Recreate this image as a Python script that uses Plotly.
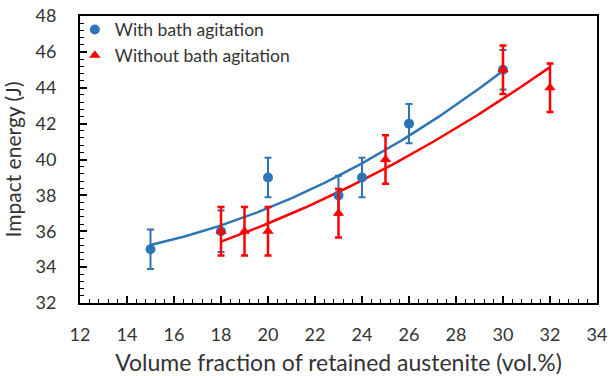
import numpy as np
import plotly.graph_objects as go

# With bath agitation
x_with = [15, 18, 20, 23, 24, 26, 30]
y_with = [35, 36, 39, 38, 39, 42, 45]
err_with = [1.1, 1.15, 1.1, 1.1, 1.1, 1.1, 1.1]

# Without bath agitation
x_without = [18, 19, 20, 23, 25, 30, 32]
y_without = [36, 36, 36, 37, 40, 45, 44]
err_without = [1.35, 1.35, 1.35, 1.35, 1.35, 1.35, 1.35]

names = ["With bath agitation", "Without bath agitation"]
blue = "#2E75B6"
red = "#FF0000"

fig = go.Figure()

# polynomial (2nd order) trendlines fitted from the data
for xs, ys, col in [(x_with, y_with, blue), (x_without, y_without, red)]:
    c = np.polyfit(xs, ys, 2)
    xx = np.linspace(min(xs), max(xs), 100)
    fig.add_trace(go.Scatter(x=xx, y=np.polyval(c, xx), mode="lines",
                             line=dict(color=col, width=2.5), showlegend=False,
                             hoverinfo="skip"))

fig.add_trace(go.Scatter(x=x_with, y=y_with, mode="markers", name=names[0],
                         marker=dict(symbol="circle", size=10, color=blue),
                         error_y=dict(type="data", array=err_with, color=blue,
                                      thickness=2, width=3.5)))
fig.add_trace(go.Scatter(x=x_without, y=y_without, mode="markers", name=names[1],
                         marker=dict(symbol="triangle-up", size=10, color=red),
                         error_y=dict(type="data", array=err_without, color=red,
                                      thickness=2.5, width=3.5)))

font_family = "Lato, 'Open Sans', sans-serif"
txt = "#333333"
fig.update_layout(
    width=611, height=376,
    margin=dict(l=80, r=14, t=16, b=73, autoexpand=False),
    paper_bgcolor="white", plot_bgcolor="white",
    font=dict(family=font_family, color=txt),
    showlegend=True,
    legend=dict(x=-0.01, y=1.015, xanchor="left", yanchor="top",
                bgcolor="rgba(0,0,0,0)", font=dict(size=17.5, color=txt),
                itemwidth=30, tracegroupgap=0),
    xaxis=dict(range=[12, 34], dtick=2, tick0=12, showgrid=False, zeroline=False,
               automargin=False,
               showline=True, linecolor="black", linewidth=2, mirror=True,
               ticks="inside", ticklen=7, tickwidth=1.5, tickcolor="black",
               minor=dict(dtick=0.4, ticks="inside", ticklen=4, tickcolor="black", tickwidth=1.2),
               tickfont=dict(size=18, color=txt), ticklabelstandoff=14,
               title=dict(text="Volume fraction of retained austenite (vol.%)",
                          font=dict(size=23, color=txt), standoff=13)),
    yaxis=dict(range=[32, 48], dtick=2, tick0=32, showgrid=False, zeroline=False,
               automargin=False,
               showline=True, linecolor="black", linewidth=2, mirror=True,
               ticks="inside", ticklen=7, tickwidth=1.5, tickcolor="black",
               minor=dict(dtick=0.4, ticks="inside", ticklen=4, tickcolor="black", tickwidth=1.2),
               tickfont=dict(size=18, color=txt), ticklabelstandoff=18,
               title=dict(text="Impact energy (J)",
                          font=dict(size=21, color=txt), standoff=9)),
)

fig.write_html("out.html")
